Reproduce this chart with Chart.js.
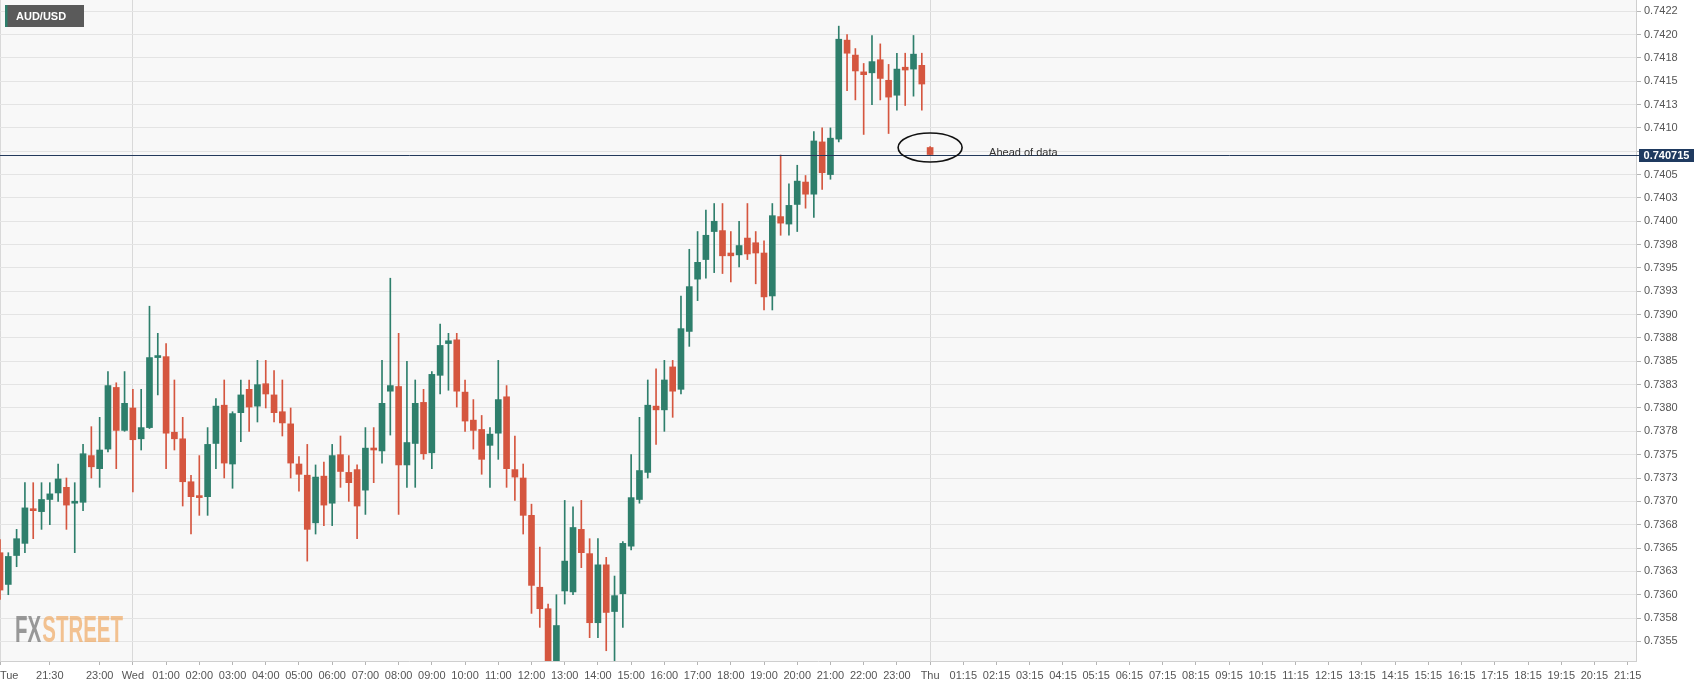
<!DOCTYPE html>
<html>
<head>
<meta charset="utf-8">
<title>AUD/USD</title>
<script src="https://cdn.jsdelivr.net/npm/chart.js@4.4.0/dist/chart.umd.min.js"></script>
<style>
  html, body { margin: 0; padding: 0; background: #fff; }
  #wrap { width: 1707px; height: 687px; }
</style>
</head>
<body>
<div id="wrap"><canvas id="chart" width="1707" height="687"></canvas></div>
<script>
// AUD/USD 15 min candles, slot 0 = Tue 20:00
const opens = [
  0.73645, 0.73611, 0.73642, 0.73655, 0.73692, 0.73689, 0.73702, 0.73709, 0.73715, 0.73698,
  0.73699, 0.73749, 0.73735, 0.73756, 0.73822, 0.73776, 0.73800, 0.73767, 0.73779, 0.73854,
  0.73855, 0.73774, 0.73767, 0.73721, 0.73705, 0.73705, 0.73762, 0.73803, 0.73740, 0.73795,
  0.73820, 0.73802, 0.73826, 0.73814, 0.73796, 0.73783, 0.73740, 0.73728, 0.73677, 0.73727,
  0.73698, 0.73750, 0.73731, 0.73734, 0.73712, 0.73757, 0.73754, 0.73818, 0.73823, 0.73739,
  0.73762, 0.73806, 0.73752, 0.73835, 0.73869, 0.73873, 0.73817, 0.73787, 0.73777, 0.73760,
  0.73773, 0.73812, 0.73734, 0.73725, 0.73685, 0.73608, 0.73585, 0.73510, 0.73604, 0.73603,
  0.73670, 0.73644, 0.73570, 0.73632, 0.73582, 0.73601, 0.73652, 0.73702, 0.73731, 0.73802,
  0.73798, 0.73844, 0.73820, 0.73882, 0.73938, 0.73959, 0.73989, 0.73990, 0.73966, 0.73964,
  0.73982, 0.73977, 0.73966, 0.73920, 0.74005, 0.73997, 0.74018, 0.74042, 0.74029, 0.74085,
  0.74050, 0.74088, 0.74194, 0.74178, 0.74160, 0.74159, 0.74173, 0.74151, 0.74135, 0.74165,
  0.74163, 0.74167, 0.74079
];
const highs = [
  0.73659, 0.73645, 0.73670, 0.73720, 0.73720, 0.73720, 0.73720, 0.73740, 0.73725, 0.73720,
  0.73761, 0.73780, 0.73790, 0.73839, 0.73827, 0.73839, 0.73820, 0.73820, 0.73909, 0.73880,
  0.73869, 0.73830, 0.73790, 0.73728, 0.73749, 0.73779, 0.73810, 0.73830, 0.73796, 0.73830,
  0.73830, 0.73851, 0.73851, 0.73840, 0.73830, 0.73800, 0.73748, 0.73761, 0.73739, 0.73742,
  0.73761, 0.73770, 0.73749, 0.73739, 0.73779, 0.73779, 0.73851, 0.73939, 0.73880, 0.73850,
  0.73830, 0.73820, 0.73839, 0.73890, 0.73880, 0.73880, 0.73830, 0.73809, 0.73792, 0.73779,
  0.73851, 0.73824, 0.73770, 0.73740, 0.73697, 0.73651, 0.73590, 0.73600, 0.73701, 0.73694,
  0.73701, 0.73660, 0.73660, 0.73640, 0.73620, 0.73657, 0.73750, 0.73790, 0.73830, 0.73842,
  0.73851, 0.73851, 0.73920, 0.73970, 0.73989, 0.74012, 0.74019, 0.74019, 0.73989, 0.74000,
  0.74019, 0.73989, 0.73979, 0.74019, 0.74071, 0.74040, 0.74060, 0.74049, 0.74096, 0.74100,
  0.74100, 0.74209, 0.74200, 0.74185, 0.74169, 0.74199, 0.74190, 0.74168, 0.74180, 0.74180,
  0.74199, 0.74180, 0.74080
];
const lows = [
  0.73595, 0.73600, 0.73630, 0.73645, 0.73660, 0.73670, 0.73675, 0.73700, 0.73670, 0.73645,
  0.73690, 0.73725, 0.73715, 0.73753, 0.73735, 0.73775, 0.73710, 0.73755, 0.73778, 0.73814,
  0.73735, 0.73755, 0.73695, 0.73665, 0.73685, 0.73685, 0.73735, 0.73725, 0.73714, 0.73764,
  0.73775, 0.73785, 0.73800, 0.73785, 0.73770, 0.73725, 0.73711, 0.73636, 0.73665, 0.73674,
  0.73674, 0.73715, 0.73700, 0.73660, 0.73686, 0.73720, 0.73741, 0.73771, 0.73686, 0.73715,
  0.73715, 0.73745, 0.73735, 0.73815, 0.73819, 0.73801, 0.73775, 0.73756, 0.73729, 0.73715,
  0.73745, 0.73715, 0.73701, 0.73665, 0.73580, 0.73565, 0.73500, 0.73495, 0.73590, 0.73600,
  0.73629, 0.73554, 0.73554, 0.73540, 0.73520, 0.73565, 0.73648, 0.73698, 0.73725, 0.73761,
  0.73775, 0.73790, 0.73815, 0.73866, 0.73915, 0.73939, 0.73945, 0.73944, 0.73935, 0.73951,
  0.73959, 0.73933, 0.73905, 0.73905, 0.73985, 0.73985, 0.73989, 0.74014, 0.74004, 0.74034,
  0.74045, 0.74085, 0.74140, 0.74130, 0.74093, 0.74125, 0.74130, 0.74094, 0.74119, 0.74124,
  0.74134, 0.74119, 0.74071
];
const closes = [
  0.73605, 0.73641, 0.73660, 0.73693, 0.73690, 0.73702, 0.73708, 0.73724, 0.73696, 0.73700,
  0.73751, 0.73737, 0.73755, 0.73824, 0.73776, 0.73805, 0.73766, 0.73779, 0.73854, 0.73856,
  0.73773, 0.73767, 0.73721, 0.73705, 0.73704, 0.73761, 0.73802, 0.73741, 0.73794, 0.73814,
  0.73801, 0.73825, 0.73815, 0.73795, 0.73784, 0.73741, 0.73729, 0.73670, 0.73726, 0.73696,
  0.73749, 0.73732, 0.73720, 0.73695, 0.73757, 0.73755, 0.73805, 0.73824, 0.73739, 0.73763,
  0.73805, 0.73751, 0.73836, 0.73867, 0.73872, 0.73818, 0.73786, 0.73776, 0.73745, 0.73772,
  0.73809, 0.73735, 0.73726, 0.73685, 0.73610, 0.73585, 0.73510, 0.73567, 0.73636, 0.73672,
  0.73645, 0.73570, 0.73632, 0.73581, 0.73599, 0.73655, 0.73704, 0.73733, 0.73803, 0.73798,
  0.73830, 0.73818, 0.73885, 0.73930, 0.73956, 0.73985, 0.74000, 0.73963, 0.73963, 0.73974,
  0.73965, 0.73966, 0.73919, 0.74006, 0.73998, 0.74017, 0.74043, 0.74029, 0.74086, 0.74052,
  0.74089, 0.74195, 0.74180, 0.74161, 0.74157, 0.74171, 0.74153, 0.74133, 0.74163, 0.74162,
  0.74179, 0.74147, 0.740715
];
const slots = opens.map((_, i) => i);
const lastPrice = 0.740715;

const xTickSlots = [0, 6, 12, 16, 20, 24, 28, 32, 36, 40, 44, 48, 52, 56, 60, 64, 68, 72, 76, 80,
  84, 88, 92, 96, 100, 104, 108, 112, 116, 120, 124, 128, 132, 136, 140, 144, 148, 152, 156, 160,
  164, 168, 172, 176, 180, 184, 188, 192, 196];
const xTickLabels = ['      Tue', '21:30', '23:00', 'Wed', '01:00', '02:00', '03:00', '04:00', '05:00',
  '06:00', '07:00', '08:00', '09:00', '10:00', '11:00', '12:00', '13:00', '14:00', '15:00', '16:00',
  '17:00', '18:00', '19:00', '20:00', '21:00', '22:00', '23:00', 'Thu', '01:15', '02:15', '03:15',
  '04:15', '05:15', '06:15', '07:15', '08:15', '09:15', '10:15', '11:15', '12:15', '13:15', '14:15',
  '15:15', '16:15', '17:15', '18:15', '19:15', '20:15', '21:15'];
const dayTicks = ['      Tue', 'Wed', 'Thu'];

const yTickValues = [0.7355, 0.73575, 0.736, 0.73625, 0.7365, 0.73675, 0.737, 0.73725, 0.7375,
  0.73775, 0.738, 0.73825, 0.7385, 0.73875, 0.739, 0.73925, 0.7395, 0.73975, 0.74, 0.74025,
  0.7405, 0.74075, 0.741, 0.74125, 0.7415, 0.74175, 0.742, 0.74225];
const yTickLabels = ['0.7355', '0.7358', '0.7360', '0.7363', '0.7365', '0.7368', '0.7370', '0.7373',
  '0.7375', '0.7378', '0.7380', '0.7383', '0.7385', '0.7388', '0.7390', '0.7393', '0.7395', '0.7398',
  '0.7400', '0.7403', '0.7405', '', '0.7410', '0.7413', '0.7415', '0.7418', '0.7420', '0.7422'];

const UP = '#2e7f6c';
const DOWN = '#d5563f';
const FONT = '"Liberation Sans", Arial, sans-serif';

function candleColor(c) {
  const i = c.dataIndex;
  return closes[i] >= opens[i] ? UP : DOWN;
}

// background, watermark, price line, notes
const overlay = {
  id: 'overlay',
  beforeDraw(chart) {
    const { ctx, chartArea: a } = chart;
    ctx.save();
    ctx.fillStyle = '#ffffff';
    ctx.fillRect(0, 0, chart.width, chart.height);
    ctx.fillStyle = '#f8f8f8';
    ctx.fillRect(a.left, a.top, a.right - a.left, a.bottom - a.top);
    ctx.restore();
  },
  beforeDatasetsDraw(chart) {
    const { ctx } = chart;
    ctx.save();
    ctx.font = 'bold 36px "Liberation Sans Narrow", "Liberation Sans", Arial';
    ctx.textBaseline = 'alphabetic';
    const wFx = ctx.measureText('FX').width;
    const wSt = ctx.measureText('STREET').width;
    const sx = 108 / (wFx + wSt + 2);
    ctx.translate(15, 642);
    ctx.scale(sx, 1);
    ctx.fillStyle = 'rgba(120,120,120,0.75)';
    ctx.fillText('FX', 0, 0);
    ctx.fillStyle = 'rgba(240,170,100,0.7)';
    ctx.fillText('STREET', wFx + 2, 0);
    ctx.restore();
  },
  afterDatasetsDraw(chart) {
    const { ctx, chartArea: a, scales: { x, y } } = chart;
    const py = Math.round(y.getPixelForValue(lastPrice)) + 0.5;
    ctx.save();
    ctx.strokeStyle = '#243a5c';
    ctx.lineWidth = 1;
    ctx.beginPath();
    ctx.moveTo(a.left, py);
    ctx.lineTo(a.right + 3, py);
    ctx.stroke();

    // circled candle and note
    const cx = x.getPixelForValue(112);
    const cy = y.getPixelForValue(0.74079);
    ctx.strokeStyle = '#111';
    ctx.lineWidth = 1.6;
    ctx.beginPath();
    ctx.ellipse(cx, cy, 32, 14.5, 0, 0, Math.PI * 2);
    ctx.stroke();
    ctx.fillStyle = '#333';
    ctx.font = '11px ' + FONT;
    ctx.textBaseline = 'middle';
    ctx.textAlign = 'left';
    ctx.fillText('Ahead of data', x.getPixelForValue(119.1), y.getPixelForValue(0.74073));
    ctx.restore();
  },
  afterDraw(chart) {
    const { ctx, chartArea: a, scales: { y } } = chart;
    const py = Math.round(y.getPixelForValue(lastPrice));
    ctx.save();
    // last price tag
    ctx.fillStyle = '#1f3a60';
    ctx.fillRect(a.right + 3, py - 6, 55, 13);
    ctx.fillStyle = '#fff';
    ctx.font = 'bold 11px ' + FONT;
    ctx.textAlign = 'center';
    ctx.textBaseline = 'middle';
    ctx.fillText(lastPrice.toFixed(6), a.right + 30.5, py + 0.5);

    // symbol box
    ctx.fillStyle = '#5a5a5a';
    ctx.fillRect(5, 5, 79, 22);
    ctx.fillStyle = UP;
    ctx.fillRect(5, 5, 2.5, 22);
    ctx.fillStyle = '#fff';
    ctx.textAlign = 'left';
    ctx.fillText('AUD/USD', 16, 16.5);
    ctx.restore();
  }
};

new Chart(document.getElementById('chart'), {
  type: 'bar',
  data: {
    datasets: [
      {
        label: 'wick',
        data: slots.map((s, i) => ({ x: s, y: [lows[i], highs[i]] })),
        backgroundColor: candleColor,
        barThickness: 1,
        grouped: false,
        minBarLength: 1,
        order: 2
      },
      {
        label: 'body',
        data: slots.map((s, i) => ({ x: s, y: [opens[i], closes[i]] })),
        backgroundColor: candleColor,
        barThickness: 6,
        grouped: false,
        minBarLength: 2,
        order: 1
      }
    ]
  },
  options: {
    responsive: false,
    animation: false,
    events: [],
    layout: { padding: 0 },
    plugins: { legend: { display: false }, tooltip: { enabled: false } },
    scales: {
      x: {
        type: 'linear',
        min: 0,
        max: 197,
        offset: false,
        grid: {
          offset: false,
          color: (c) => dayTicks.includes(xTickLabels[c.index]) ? '#d9d9d9' : 'rgba(0,0,0,0)',
          tickColor: '#b5b5b5',
          tickLength: 4
        },
        border: { display: true, color: '#cfcfcf' },
        afterBuildTicks: (scale) => { scale.ticks = xTickSlots.map(v => ({ value: v })); },
        afterFit: (scale) => { scale.height = 26; scale.paddingLeft = 0; scale.paddingRight = 0; },
        ticks: {
          autoSkip: false,
          maxRotation: 0,
          minRotation: 0,
          padding: 4,
          color: '#555',
          font: { family: FONT, size: 11 },
          callback: (v, i) => xTickLabels[i]
        }
      },
      y: {
        type: 'linear',
        position: 'right',
        min: 0.73529,
        max: 0.74237,
        beginAtZero: false,
        grid: { color: '#e4e4e4', tickColor: '#b5b5b5', tickLength: 5 },
        border: { display: true, color: '#cfcfcf' },
        afterBuildTicks: (scale) => { scale.ticks = yTickValues.map(v => ({ value: v })); },
        afterFit: (scale) => { scale.width = 71; scale.paddingTop = 0; scale.paddingBottom = 0; },
        ticks: {
          autoSkip: false,
          padding: 3,
          color: '#555',
          font: { family: FONT, size: 11 },
          callback: (v, i) => yTickLabels[i]
        }
      }
    }
  },
  plugins: [overlay]
});
</script>
</body>
</html>
